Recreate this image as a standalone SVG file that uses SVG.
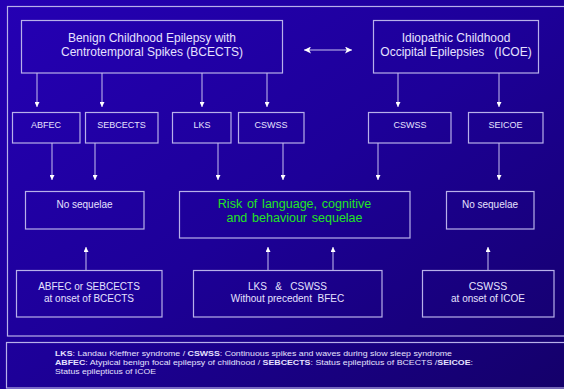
<svg xmlns="http://www.w3.org/2000/svg" width="564" height="389" viewBox="0 0 564 389">
<defs>
<linearGradient id="bg" x1="0" y1="0" x2="1" y2="1">
<stop offset="0" stop-color="#2500B4"/>
<stop offset="0.5" stop-color="#1D0098"/>
<stop offset="1" stop-color="#14006A"/>
</linearGradient>
<marker id="ah" viewBox="0 0 6 6" refX="6" refY="3" markerWidth="5" markerHeight="5" markerUnits="userSpaceOnUse" orient="auto">
<path d="M0,0 L6,3 L0,6 z" fill="#FFFFFF"/>
</marker>
<marker id="dh" viewBox="0 0 6 6" refX="6" refY="3" markerWidth="7" markerHeight="7" markerUnits="userSpaceOnUse" orient="auto-start-reverse">
<path d="M0,0 L6,3 L0,6 L1.5,3 z" fill="#FFFFFF"/>
</marker>
</defs>
<style>
.box{fill:none;stroke:#B8B0EA;stroke-width:1.2}
.ln{stroke:#C8C2F0;stroke-width:1;fill:none}
text{font-family:"Liberation Sans",Arial,sans-serif;fill:#E6E2FF;text-anchor:middle}
.t12{font-size:12px}
.t9{font-size:9px}
.t10{font-size:10px}
.g{fill:#22E622;font-size:12.5px;word-spacing:1.3px}
.leg{font-size:7.8px;text-anchor:start}
</style>
<rect width="564" height="389" fill="url(#bg)"/>
<rect x="7.5" y="6.5" width="570" height="329.5" class="box"/>
<g id="bcects"><rect x="21.5" y="20.5" width="261" height="52.5" class="box"/>
<text class="t12" x="152" y="42">Benign Childhood Epilepsy with</text>
<text class="t12" x="152" y="56">Centrotemporal Spikes (BCECTS)</text></g>
<g id="icoe"><rect x="373.5" y="20.5" width="165" height="52.5" class="box"/>
<text class="t12" x="456" y="42">Idiopathic Childhood</text>
<text class="t12" x="456" y="56" xml:space="preserve">Occipital Epilepsies   (ICOE)</text></g>
<g id="abfec"><rect x="12.5" y="112.5" width="67.5" height="30.5" class="box"/><text class="t9" x="46" y="128">ABFEC</text></g>
<g id="sebcects"><rect x="85.5" y="112.5" width="72.5" height="30.5" class="box"/><text class="t9" x="121.5" y="128">SEBCECTS</text></g>
<g id="lks"><rect x="172.5" y="112.5" width="58.5" height="30.5" class="box"/><text class="t9" x="202" y="128">LKS</text></g>
<g id="cswss1"><rect x="238.5" y="112.5" width="65.5" height="30.5" class="box"/><text class="t9" x="271" y="128">CSWSS</text></g>
<g id="cswss2"><rect x="368.5" y="112.5" width="82.5" height="30.5" class="box"/><text class="t9" x="410" y="128">CSWSS</text></g>
<g id="seicoe"><rect x="468.5" y="112.5" width="74.5" height="30.5" class="box"/><text class="t9" x="505.5" y="128">SEICOE</text></g>
<g id="noseq1"><rect x="25.5" y="191.5" width="118.5" height="37.5" class="box"/><text class="t10" x="84.5" y="208">No sequelae</text></g>
<g id="risk"><rect x="179.5" y="191.5" width="230.5" height="46.5" class="box"/>
<text class="g" x="294.5" y="207.5">Risk of language, cognitive</text>
<text class="g" x="294.5" y="222">and behaviour sequelae</text></g>
<g id="noseq2"><rect x="446.5" y="191.5" width="87.5" height="37.5" class="box"/><text class="t10" x="490" y="208">No sequelae</text></g>
<g id="onset1"><rect x="16.5" y="270.5" width="145.5" height="46.5" class="box"/>
<text class="t10" x="89" y="290">ABFEC or SEBCECTS</text>
<text class="t10" x="89" y="302">at onset of BCECTS</text></g>
<g id="lkscswss"><rect x="193.5" y="270.5" width="188.5" height="46.5" class="box"/>
<text class="t10" x="287.5" y="290" xml:space="preserve">LKS   &amp;   CSWSS</text>
<text class="t10" x="287.5" y="302" xml:space="preserve">Without precedent  BFEC</text></g>
<g id="onset2"><rect x="422.5" y="270.5" width="131.5" height="46.5" class="box"/>
<text class="t10" x="488" y="290" style="font-size:10.5px">CSWSS</text>
<text class="t10" x="488" y="302">at onset of ICOE</text></g>
<g id="legend"><rect x="6.5" y="342.5" width="570" height="45.5" class="box"/>
<text class="leg" x="55" y="356" textLength="397" lengthAdjust="spacingAndGlyphs"><tspan font-weight="bold">LKS</tspan>: Landau Kleffner syndrome / <tspan font-weight="bold">CSWSS</tspan>: Continuous spikes and waves during slow sleep syndrome</text>
<text class="leg" x="55" y="365" textLength="418" lengthAdjust="spacingAndGlyphs"><tspan font-weight="bold">ABFEC</tspan>: Atypical benign focal epilepsy of childhood / <tspan font-weight="bold">SEBCECTS</tspan>: Status epilepticus of BCECTS /<tspan font-weight="bold">SEICOE</tspan>:</text>
<text class="leg" x="55" y="374" textLength="101" lengthAdjust="spacingAndGlyphs">Status epilepticus of ICOE</text></g>
<g id="connectors">
<line class="ln" x1="37" y1="73" x2="37" y2="107" marker-end="url(#ah)"/>
<line class="ln" x1="102" y1="73" x2="102" y2="107" marker-end="url(#ah)"/>
<line class="ln" x1="202" y1="73" x2="202" y2="107" marker-end="url(#ah)"/>
<line class="ln" x1="267" y1="73" x2="267" y2="107" marker-end="url(#ah)"/>
<line class="ln" x1="398" y1="73" x2="398" y2="107" marker-end="url(#ah)"/>
<line class="ln" x1="499" y1="73" x2="499" y2="107" marker-end="url(#ah)"/>
<line class="ln" x1="304" y1="50" x2="352" y2="50" marker-start="url(#dh)" marker-end="url(#dh)"/>
<line class="ln" x1="52" y1="143" x2="52" y2="180" marker-end="url(#ah)"/>
<line class="ln" x1="95" y1="143" x2="95" y2="180" marker-end="url(#ah)"/>
<line class="ln" x1="218" y1="143" x2="218" y2="180" marker-end="url(#ah)"/>
<line class="ln" x1="283" y1="143" x2="283" y2="180" marker-end="url(#ah)"/>
<line class="ln" x1="378" y1="143" x2="378" y2="180" marker-end="url(#ah)"/>
<line class="ln" x1="499" y1="143" x2="499" y2="180" marker-end="url(#ah)"/>
<line class="ln" x1="86" y1="270" x2="86" y2="247" marker-end="url(#ah)"/>
<line class="ln" x1="268" y1="270" x2="268" y2="247" marker-end="url(#ah)"/>
<line class="ln" x1="333" y1="270" x2="333" y2="247" marker-end="url(#ah)"/>
<line class="ln" x1="488" y1="270" x2="488" y2="247" marker-end="url(#ah)"/>
</g>
</svg>
